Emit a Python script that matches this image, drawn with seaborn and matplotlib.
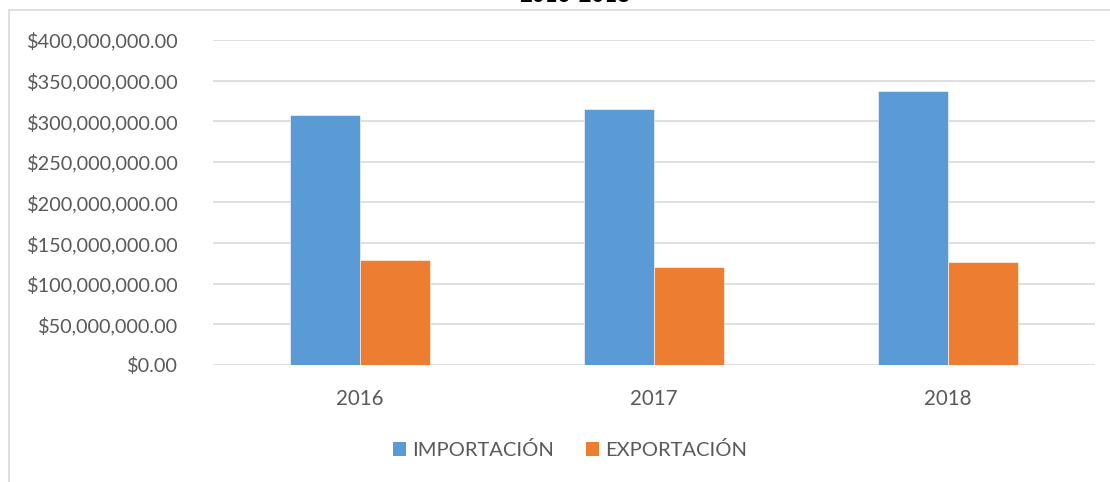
import matplotlib
matplotlib.use("Agg")
import matplotlib.pyplot as plt
import matplotlib.ticker as mticker
from matplotlib.patches import Patch, Rectangle
import seaborn as sns
import pandas as pd

years = ["2016", "2017", "2018"]
series_names = ["IMPORTACIÓN", "EXPORTACIÓN"]
importacion = [308_000_000, 315_500_000, 336_800_000]
exportacion = [129_000_000, 120_700_000, 126_700_000]
title = "2016-2018"

colors = ["#5B9BD5", "#ED7D31"]

df = pd.DataFrame({
    "year": years * 2,
    "serie": [series_names[0]] * 3 + [series_names[1]] * 3,
    "valor": importacion + exportacion,
})

sns.set_theme(style="white")
plt.rcParams["font.family"] = ["Lato", "DejaVu Sans"]

W, H = 1110, 482
fig = plt.figure(figsize=(W / 100, H / 100), dpi=100)
ax = fig.add_axes([213 / W, 1 - 365 / H, (1095 - 213) / W, (365 - 40) / H])

sns.barplot(data=df, x="year", y="valor", hue="serie", palette=colors,
            width=0.476, ax=ax, legend=False, edgecolor="#ffffff",
            linewidth=0.4, saturation=1)

ax.set_ylim(0, 400_000_000)
ax.set_xlim(-0.5, 2.5)
ax.yaxis.set_major_locator(mticker.MultipleLocator(50_000_000))
ax.yaxis.set_major_formatter(mticker.FuncFormatter(lambda v, p: f"${v:,.2f}"))
ax.grid(axis="y", color="#d9d9d9", linewidth=1.2)
ax.set_axisbelow(True)
for s in ax.spines.values():
    s.set_visible(False)
ax.set_xlabel("")
ax.set_ylabel("")
ax.tick_params(axis="y", length=0, pad=25, labelsize=14.3, labelcolor="#595959")
ax.tick_params(axis="x", length=0, pad=17, labelsize=14.8, labelcolor="#595959")

# chart border
fig.patches.append(Rectangle((9 / W, -0.1), 1.2, 1 - 10 / H + 0.1,
                             transform=fig.transFigure, fill=False,
                             edgecolor="#d9d9d9", linewidth=1.2))

fig.text(575 / W, 1 - 1.5 / H, title, ha="center", va="baseline",
         fontsize=16, fontweight="bold", color="#000000")

handles = [Patch(facecolor=c, edgecolor="none") for c in colors]
fig.legend(handles, series_names, loc="center", bbox_to_anchor=(570 / W, 1 - 450 / H),
           ncol=2, frameon=False, fontsize=14.5, labelcolor="#595959",
           handlelength=0.69, handleheight=0.69, handletextpad=0.3,
           columnspacing=1.55)

fig.savefig("out.png", dpi=100)
